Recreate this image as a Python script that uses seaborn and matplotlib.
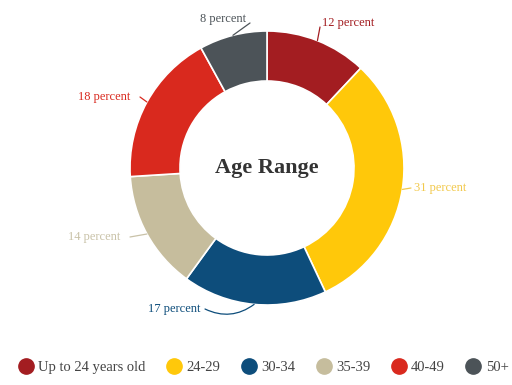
import numpy as np
import matplotlib
matplotlib.use("Agg")
import matplotlib.pyplot as plt
from matplotlib.lines import Line2D
import seaborn as sns

# Share of respondents by age range
categories = ["Up to 24 years old", "24-29", "30-34", "35-39", "40-49", "50+"]
shares = [12, 31, 17, 14, 18, 8]
label_texts = ["12 percent", "31 percent", "17 percent", "14 percent", "18 percent", "8 percent"]

colors = ["#A31D21", "#FFC80A", "#0D4D7B", "#C6BD9D", "#D9291E", "#4C5358"]
label_colors = ["#A31D21", "#F2C94C", "#0D4D7B", "#C9C2A8", "#D9291E", "#4C5358"]

sns.set_theme(style="white")
plt.rcParams["font.family"] = ["Liberation Serif", "DejaVu Serif"]

W, H = 512, 385
fig = plt.figure(figsize=(W / 100, H / 100), dpi=100)
ax = fig.add_axes([0, 0, 1, 1])

cx, cy, r_out, ring = 267, 217, 137, 50
wedges, _ = ax.pie(
    shares, colors=colors, startangle=90, counterclock=False,
    center=(cx, cy), radius=r_out, frame=True,
    wedgeprops=dict(width=ring, edgecolor="white", linewidth=1.2),
)
ax.set_xlim(0, W)
ax.set_ylim(0, H)
ax.set_aspect("equal")
ax.axis("off")

ax.text(cx, cy, "Age Range", ha="center", va="center",
        fontsize=16, fontweight="bold", color="#333333")

# label placement (text anchor, connector curvature)
label_pos = [
    ((322, 362), 0.0),
    ((414, 197), 0.0),
    ((148, 76), 0.3),
    ((68, 148), 0.0),
    ((78, 288), 0.0),
    ((200, 366), 0.0),
]
text_widths = [0, 0, 57, 62, 62, 0]

for w, txt, col, (pos, rad), tw in zip(wedges, label_texts, label_colors, label_pos, text_widths):
    mid = np.deg2rad((w.theta1 + w.theta2) / 2)
    px = cx + r_out * np.cos(mid)
    py = cy + r_out * np.sin(mid)
    ax.text(pos[0], pos[1], txt, ha="left", va="center", fontsize=9, color=col)
    # connector from the ring edge to the label
    if tw:
        end = (pos[0] + tw, pos[1])
    elif txt == "12 percent":
        end = (pos[0] - 2, pos[1] - 4)
    elif txt == "8 percent":
        end = (pos[0] + 50, pos[1] - 4)
    else:
        end = (pos[0] - 3, pos[1])
    ax.annotate("", xy=(px, py), xytext=end,
                arrowprops=dict(arrowstyle="-", color=col, lw=0.9,
                                connectionstyle=f"arc3,rad={rad}",
                                shrinkA=0, shrinkB=0))

handles = [Line2D([0], [0], marker="o", linestyle="", markersize=11,
                  markerfacecolor=c, markeredgecolor=c) for c in colors]
fig.legend(handles, categories, loc="lower center", bbox_to_anchor=(0.515, -0.005),
           ncol=6, frameon=False, fontsize=10.5, handletextpad=0.35,
           columnspacing=1.45, handlelength=1.0, labelcolor="#444444")

fig.savefig("out.png", dpi=100)
